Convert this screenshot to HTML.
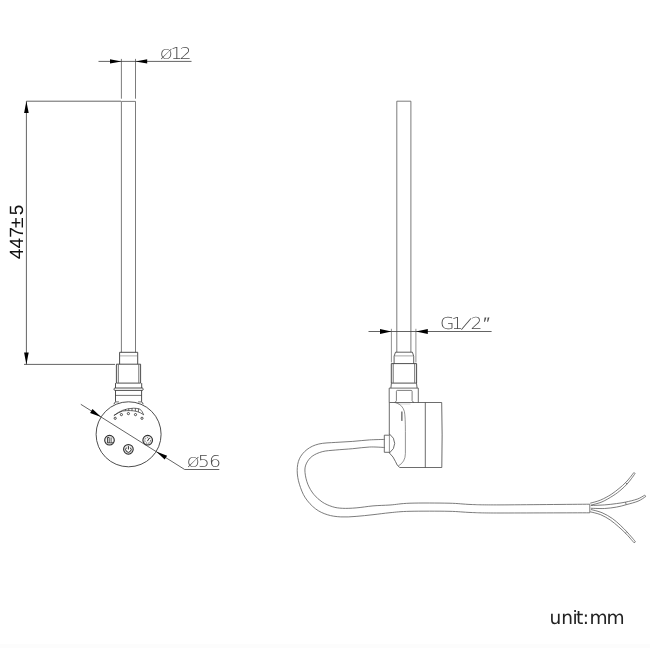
<!DOCTYPE html>
<html lang="en">
<head>
<meta charset="utf-8">
<title>Heating element dimensions</title>
<style>
html,body{margin:0;padding:0;background:#fff;}
body{width:650px;height:650px;overflow:hidden;position:relative;font-family:"Liberation Sans",sans-serif;}
svg{position:absolute;left:0;top:0;display:block;will-change:transform;filter:grayscale(1);}
text{text-rendering:geometricPrecision;}
.ln{fill:none;stroke:#5a5a5a;stroke-width:0.8;}
.dk{fill:none;stroke:#3a3a3a;stroke-width:0.9;}
.dm{fill:none;stroke:#3c3c3c;stroke-width:0.8;}
.md{fill:none;stroke:#484848;stroke-width:0.8;}
.ar{fill:#000;stroke:none;}
.cad{font-family:"DejaVu Sans","Liberation Sans",sans-serif;font-weight:200;fill:#4a4a4a;}
.dim{font-family:"Liberation Sans",sans-serif;fill:#111;}
.unit{font-family:"DejaVu Sans","Liberation Sans",sans-serif;fill:#222;}
.lab{position:absolute;margin:0;padding:0;white-space:nowrap;font-family:"DejaVu Sans","Liberation Sans",sans-serif;font-weight:200;color:#4a4a4a;font-size:16.6px;line-height:24px;height:24px;transform:scaleX(1.14);transform-origin:0 0;letter-spacing:-1.6px;will-change:transform;}
.lab::first-letter{font-size:14px;letter-spacing:-1.9px;}
.l12{letter-spacing:-2.6px;}
.l56{letter-spacing:-0.7px;}
.l56::first-letter{letter-spacing:-1.5px;}
</style>
</head>
<body>
<svg width="650" height="650" viewBox="0 0 650 650">
<rect width="650" height="650" fill="#fff"/>
<rect x="0" y="644" width="650" height="4" fill="#fcfcfc"/>

<!-- ===== left view: rod ===== -->
<g class="ln">
  <path d="M121.4 352.3 V101.4 H135.5 V352.3"/>
  <path d="M121.4 58.9 V98.7 M135.5 58.9 V98.7"/>
</g>

<!-- dimension Ø12 -->
<g class="dm">
  <path d="M98.5 61.4 H191.5"/>
</g>
<path class="ar" d="M121.4 61.4 L110 59.2 L110 63.6 Z"/>
<path class="ar" d="M135.5 61.4 L147.2 59.2 L147.2 63.6 Z"/>


<!-- dimension 447±5 -->
<g class="dm">
  <path d="M26.4 101.2 H121 M26.4 101.2 V364.4 M24 364.4 H115"/>
</g>
<path class="ar" d="M26.4 101.2 L24.1 113 L28.7 113 Z"/>
<path class="ar" d="M26.4 364.4 L24.1 352.6 L28.7 352.6 Z"/>
<text class="dim" transform="translate(22.8,259.2) rotate(-90)" font-size="19.2" dx="0 0 0 -0.9 2.2">447±5</text>

<!-- fitting (left view) -->
<g class="dk">
  <path d="M119.6 364.2 V352.3 H137.7 V364.2"/>
  <path d="M119.6 355.9 H137.7" stroke-width="0.6" stroke="#777"/>
  <path d="M116.4 364.2 H140.6 V383.1 H116.4 Z" stroke-width="0.9"/>
  <path d="M118.3 364.6 V382.8 M138.8 364.6 V382.8" stroke-width="0.7" stroke="#333"/>
  <path d="M115.5 383.1 V388 M141.7 383.1 V388"/>
  <path d="M114.9 388 H142.3 Q143.2 388.2 143.2 389.2 Q143.2 390.3 142.3 390.4 H114.9 Q114 390.3 114 389.2 Q114 388.2 114.9 388 Z"/>
  <path d="M115.5 390.4 V401.7 L113.8 404.2 M141.6 390.4 V401.7 L143.3 404.2"/>
  <path d="M115.5 395.4 H141.6" stroke-width="0.7"/>
  <path d="M115.5 401.9 H119 M138 401.9 H141.6" stroke-width="0.7"/>
  <circle cx="128.6" cy="434.3" r="32.5"/>
</g>

<!-- face details -->
<g class="dk" stroke-width="0.7">
  <circle cx="115.2" cy="418.3" r="1.1"/>
  <circle cx="121.4" cy="414.6" r="1.1"/>
  <circle cx="128.4" cy="413.6" r="1.1"/>
  <circle cx="135.5" cy="414.6" r="1.1"/>
  <circle cx="142" cy="418.3" r="1.1"/>
</g>
<path d="M113.9 415.5 Q118.5 412 122.7 410.3 Q127.5 408.4 133.5 408.2 Q137.5 408.2 139.9 409.1 Q142.4 411.2 143.7 414.8 Q140.5 412.5 137.3 411.6 Q134 410.7 130.4 410.6 Q126.5 410.5 122.7 411 Q118.5 412.4 113.9 415.5 Z" fill="#fff" stroke="#2a2a2a" stroke-width="0.7"/>
<path d="M125.6 409.3 V410.6 M128.7 408.7 V410.5 M132 408.3 V410.6 M135.4 408.3 V411 M138.4 408.7 V411.9" stroke="#2a2a2a" stroke-width="0.7" fill="none"/>

<!-- buttons -->
<g fill="none" stroke="#2b2b2b">
  <circle cx="109.5" cy="440.2" r="4.75" stroke-width="1.2"/>
  <circle cx="109.5" cy="440.2" r="3.95" stroke-width="0.5" stroke="#b5b5b5"/>
  <path d="M107.5 437.5 H109.2 V442.8 H107.5 Z M111.1 437.5 V441.4 L112.4 442.8 H109.2" stroke-width="0.75" stroke="#111"/>
  <circle cx="128.4" cy="449.3" r="4.75" stroke-width="1.2"/>
  <circle cx="128.4" cy="449.3" r="3.95" stroke-width="0.5" stroke="#b5b5b5"/>
  <path d="M128.4 446.1 V449.5 M126.5 447.6 A2.7 2.7 0 1 0 130.3 447.6" stroke-width="0.9" stroke="#111"/>
  <circle cx="147.7" cy="440.2" r="4.75" stroke-width="1.2"/>
  <circle cx="147.7" cy="440.2" r="3.95" stroke-width="0.5" stroke="#b5b5b5"/>
  <circle cx="147.7" cy="440.4" r="2.8" stroke-width="0.8" stroke-dasharray="1.3 1.1" stroke="#333"/>
  <path d="M147.4 441.2 L149.2 438.2" stroke-width="0.9" stroke="#111"/>
</g>

<!-- dimension Ø56 -->
<g class="dm">
  <path d="M80.8 404.3 L184.7 469.5 H219.3"/>
</g>
<path class="ar" d="M101.1 417.0 L92.5 409.0 L90.1 412.9 Z"/>
<path class="ar" d="M156.1 451.6 L164.7 459.6 L167.1 455.7 Z"/>


<!-- ===== right view ===== -->
<g class="ln">
  <path d="M396.8 352.2 V101.2 H410.9 V352.2"/>
</g>

<!-- dimension G1/2" -->
<g class="dm">
  <path d="M368.5 331.5 H491.6"/>
  <path d="M391.4 328.8 V362.4 M415.9 328.8 V362.4" stroke="#555" stroke-width="0.65"/>
</g>
<path class="ar" d="M391.4 331.5 L380 329.1 L380 333.9 Z"/>
<path class="ar" d="M415.9 331.5 L427.8 329.1 L427.8 333.9 Z"/>
<text class="cad" transform="scale(1.12,1)" y="329.1" font-size="16.6" x="392.86 402.86 411.87 420.18 431.43" rotate="0 0 20 0 0" dy="0 0 -1.2 1.2 0">G1/2″</text>

<!-- fitting (side view) -->
<g class="dk">
  <path d="M394.1 363.6 V356.2 L395.5 352.2 H412.4 L413.7 356.2 V363.6" stroke-width="0.8"/>
  <path d="M394.3 355.9 H413.5" stroke-width="0.6" stroke="#666"/>
  <path d="M391.3 363.6 H416.6 V383.1 H391.3 Z"/>
  <path d="M393.2 364 V382.8 M414.7 364 V382.8" stroke-width="0.7" stroke="#333"/>
  <path d="M391.4 383.2 L390.9 388.1 M416.5 383.2 L417.1 388.1" stroke-width="0.8"/>
</g>
<g class="md">
  <path d="M389.2 402.5 V388.1 H418.3 V402.5"/>
  <path d="M396.4 400.6 V391.3 Q396.4 390.4 397.4 390.4 H411.1 Q412.1 390.4 412.1 391.3 V400.6 M396.4 400.6 Q396 402 394.6 402.5 M412.1 400.6 Q412.6 402 414 402.5" stroke-width="0.7"/>
  <path d="M398 404 H410.5" stroke="#aaa" stroke-width="0.5"/>
  <!-- body -->
  <path d="M389.3 402.5 H441.7 Q442.5 434.8 441.8 467.5 H399.8 Q397 466 395.5 461.6 Q393.6 456.8 389.4 453"/>
  <path d="M389.3 402.5 V434.2"/>
  <path d="M425.3 402.5 V467.5"/>
  <path d="M395.2 402.6 Q399.6 403.6 401.6 406.2 Q403.6 408.6 404.4 411.5 Q405.4 417 405.4 431.5 V453.5 Q405.4 462 398.2 466" stroke-width="0.65" stroke="#5a5a5a"/>
  <path d="M401.9 411.5 V420.9" stroke-width="1" stroke="#333"/>
  <!-- gland -->
  <path d="M389.4 435.2 H384.3 V452.3 H389.4"/>
  <path d="M389.4 433.9 Q394.7 437.8 394.7 443.4 Q394.7 449 389.4 453"/>
  <path d="M389.4 434 V453" stroke-width="0.6"/>
</g>

<!-- cable -->
<g class="ln" stroke="#555">
  <path d="M384.6 439.4 C382.1 439.5 374.9 439.6 369.6 439.9 C364.3 440.2 358.3 441.0 352.7 441.4 C347.1 441.8 341.4 442.0 335.8 442.4 C330.2 442.8 323.6 442.8 318.8 444.0 C314.0 445.2 310.2 447.0 307.0 449.5 C303.8 452.0 301.0 455.3 299.4 458.8 C297.8 462.3 297.2 466.5 297.2 470.7 C297.2 474.9 298.0 479.7 299.4 484.2 C300.8 488.7 302.6 493.7 305.3 497.8 C308.0 501.9 311.8 506.0 315.5 508.8 C319.2 511.6 323.1 513.4 327.3 514.7 C331.5 516.1 336.0 516.6 340.8 516.9 C345.6 517.2 350.7 516.8 356.1 516.4 C361.5 516.0 367.4 515.3 373.0 514.7 C378.6 514.1 383.8 513.3 390.0 512.7 C396.2 512.1 400.2 511.5 410.0 511.3 C419.8 511.1 438.8 511.1 449.0 511.3 C459.2 511.5 462.5 512.2 471.0 512.5 C479.5 512.8 480.2 513.0 500.0 513.0 C519.8 513.0 574.8 512.8 589.8 512.8"/>
  <path d="M384.6 447.5 C382.1 447.4 374.9 446.8 369.6 447.0 C364.3 447.2 358.3 448.2 352.7 448.7 C347.1 449.2 340.9 449.5 335.8 450.0 C330.7 450.5 326.1 450.6 322.2 451.7 C318.2 452.8 314.8 454.3 312.1 456.3 C309.4 458.3 307.4 461.2 306.2 463.9 C305.0 466.6 304.7 469.0 305.0 472.4 C305.3 475.8 306.3 480.5 307.8 484.2 C309.3 487.9 311.4 491.4 313.8 494.4 C316.2 497.4 319.1 499.9 322.2 502.0 C325.3 504.1 329.0 505.6 332.4 506.7 C335.8 507.8 338.6 508.1 342.5 508.3 C346.4 508.5 351.0 508.3 356.1 507.9 C361.2 507.5 367.4 506.4 373.0 505.9 C378.6 505.4 383.8 505.4 390.0 505.0 C396.2 504.6 400.2 503.5 410.0 503.2 C419.8 502.9 438.8 503.0 449.0 503.2 C459.2 503.4 462.5 504.2 471.0 504.5 C479.5 504.8 480.2 504.9 500.0 504.9 C519.8 504.8 574.8 504.3 589.8 504.2"/>
  <path d="M589.8 504.2 V512.8"/>
  <path d="M590.2 503.2 C592.0 502.7 597.2 501.5 600.7 500.0 C604.2 498.5 608.2 496.3 611.2 494.4 C614.2 492.5 616.6 490.4 619.0 488.5 C621.4 486.6 623.6 484.6 625.5 482.7 C627.4 480.8 628.8 479.0 630.1 477.4 C631.5 475.8 633.0 473.6 633.6 472.8"/>
  <path d="M590.9 505.1 C592.8 504.6 598.3 503.5 602.0 501.9 C605.7 500.3 609.9 497.7 613.1 495.7 C616.3 493.7 618.7 491.8 621.0 489.8 C623.3 487.9 625.4 485.9 627.1 484.0 C628.8 482.1 630.1 480.4 631.4 478.7 C632.7 477.0 634.4 474.5 635.0 473.6"/>
  <path d="M625.5 482.7 L627.1 484 M633.6 472.8 Q634.6 472.4 635 473.6"/>
  <path d="M590.9 505.5 C593.2 505.4 600.4 505.2 604.6 504.9 C608.9 504.6 612.9 504.1 616.4 503.6 C619.9 503.1 622.0 502.9 625.5 502.1 C629.0 501.4 634.1 500.2 637.3 499.1 C640.5 498.0 643.3 495.9 644.5 495.3"/>
  <path d="M590.9 508.3 C593.2 508.3 600.4 508.7 604.6 508.5 C608.9 508.3 612.8 507.7 616.4 507.1 C620.0 506.5 622.6 505.7 626.2 504.7 C629.8 503.7 634.8 502.5 638.0 501.2 C641.2 499.9 644.3 497.4 645.6 496.6"/>
  <path d="M625.5 502.1 L626.2 504.7 M644.5 495.3 Q645.6 495.3 645.6 496.6"/>
  <path d="M590.9 509.5 C592.8 510.0 598.4 511.2 602.0 512.7 C605.6 514.2 609.5 516.5 612.5 518.6 C615.5 520.7 617.9 523.0 620.3 525.2 C622.7 527.4 624.9 529.8 626.8 531.7 C628.6 533.7 630.0 535.3 631.4 536.9 C632.8 538.5 634.6 540.7 635.3 541.5"/>
  <path d="M590.2 511.8 C592.0 512.3 597.3 513.3 600.7 514.7 C604.1 516.1 607.6 518.2 610.5 520.2 C613.4 522.2 615.8 524.4 618.3 526.5 C620.8 528.6 623.3 531.0 625.3 533.0 C627.3 535.0 628.7 536.6 630.1 538.2 C631.5 539.8 633.2 541.8 633.8 542.5"/>
  <path d="M626.8 531.7 L625.3 533 M635.3 541.5 Q635.2 542.8 633.8 542.5"/>
</g>

<text class="unit" y="624.3" font-size="18.6" x="549.5 561.3 572.6 576 582.8 587 589.4 606.4">unit: mm</text>
</svg>
<div class="lab l12" style="left:159.6px;top:42px;">Ø12</div>
<div class="lab l56" style="left:186.6px;top:450.2px;">Ø56</div>
</body>
</html>
